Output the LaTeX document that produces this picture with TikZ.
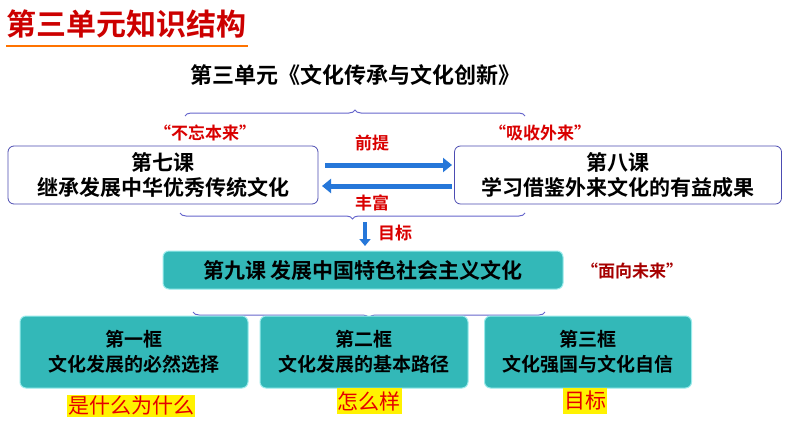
\documentclass[tikz,border=0pt]{standalone}
\usepackage{fontspec}
\setmainfont{Noto Sans CJK SC}[BoldFont={Noto Sans CJK SC Bold}]
\usetikzlibrary{decorations.pathreplacing,arrows.meta}
\begin{document}
\begin{tikzpicture}[x=1pt,y=-1pt,
 wbox/.style={draw=blue!40!gray,rounded corners=6pt,line width=0.8pt,fill=white,font=\bfseries\fontsize{21}{25}\selectfont,align=center,inner sep=0},
 tbox/.style={fill=teal!70!cyan!80!white,draw=teal!40!cyan!40!white,rounded corners=6pt,line width=1pt,align=center,inner sep=0},
 br/.style={draw=blue!50!gray!80!white,line width=1pt,decorate,decoration={brace,amplitude=6pt}},
 red/.style={text=red!85!black,font=\bfseries\fontsize{17}{19}\selectfont},
 hl/.style={fill=yellow,text=red!90!black,font=\fontsize{21}{23}\selectfont,inner sep=1pt},
 fat/.style={draw=blue!55!cyan!70!gray,-{Triangle[length=9pt,width=14pt]},line width=5pt}]
\useasboundingbox (0,0) rectangle (794,447);
\fill[white] (0,0) rectangle (794,447);
\node[anchor=west,text=red!80!black,font=\bfseries\fontsize{30}{32}\selectfont,inner sep=0] (title) at (6,24) {第三单元知识结构};
\draw[orange!90!red,line width=1.5pt] (6,46) -- (248,46);
\node[font=\bfseries\fontsize{22}{24}\selectfont] (sub) at (355,75) {第三单元《文化传承与文化创新》};
\draw[br] (185,116) -- (525,116);
\node[red] (q1) at (205,133) {“不忘本来”};
\node[red] (q2) at (540,133) {“吸收外来”};
\node[wbox,minimum width=310,minimum height=58] (k7) at (163,175) {第七课\\继承发展中华优秀传统文化};
\node[wbox,minimum width=327,minimum height=58] (k8) at (618,175) {第八课\\学习借鉴外来文化的有益成果};
\coordinate (a1) at (325,165); \coordinate (a2) at (452,165);
\coordinate (b1) at (452,186); \coordinate (b2) at (322,186);
\draw[fat] (a1) -- (a2);
\draw[fat] (b1) -- (b2);
\node[red] (qt) at (372,143) {前提};
\node[red] (fr) at (372,203) {丰富};
\draw[br] (525,213) -- (180,213);
\coordinate (d1) at (365,222); \coordinate (d2) at (365,246);
\draw[fat,line width=4pt,-{Triangle[length=7pt,width=11pt]}] (d1) -- (d2);
\node[red] (mb) at (395,233) {目标};
\node[tbox,minimum width=400,minimum height=38,font=\bfseries\fontsize{21}{24}\selectfont] (k9) at (363,270) {第九课 发展中国特色社会主义文化};
\node[red,text=red!65!black] (q3) at (632,271) {“面向未来”};
\draw[br] (545,312) -- (193,312);
\begin{scope}[every node/.append style={font=\bfseries\fontsize{19}{25}\selectfont}]
\node[tbox,minimum width=228,minimum height=72] (f1) at (134,352) {第一框\\文化发展的必然选择};
\node[tbox,minimum width=208,minimum height=72] (f2) at (364,352) {第二框\\文化发展的基本路径};
\node[tbox,minimum width=207,minimum height=72] (f3) at (588,352) {第三框\\文化强国与文化自信};
\end{scope}
\node[hl] (h1) at (131,406) {是什么为什么};
\node[hl,inner ysep=3pt] (h2) at (369,401) {怎么样};
\node[hl,inner ysep=3pt] (h3) at (585,401) {目标};
\end{tikzpicture}
\end{document}
